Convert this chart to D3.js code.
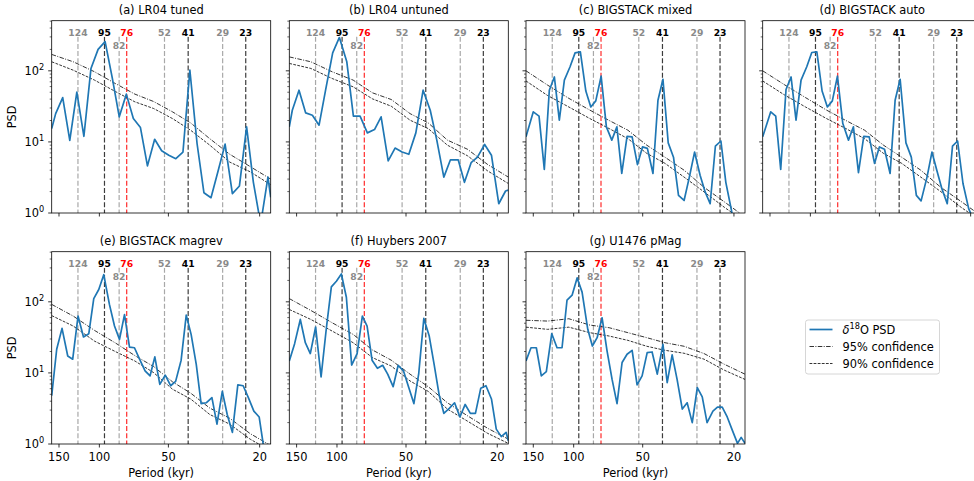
<!DOCTYPE html>
<html><head><meta charset="utf-8">
<script src="https://cdn.jsdelivr.net/npm/d3@7"></script>
<style>body{margin:0;background:#fff} svg{display:block} text{font-family:"DejaVu Sans",sans-serif}</style>
</head><body><svg id="c" width="974" height="481"></svg>
<script>
// ---------- data ----------
const titles = ["(a) LR04 tuned","(b) LR04 untuned","(c) BIGSTACK mixed","(d) BIGSTACK auto","(e) BIGSTACK magrev","(f) Huybers 2007","(g) U1476 pMag"];

const perA = [161.4,155.1,144.5,134.6,125.4,116.8,108.8,101.3,94.4,87.9,81.9,76.3,71.1,66.2,61.7,57.4,53.5,49.8,46.4,43.2,40.3,37.5,35.0,32.6,30.3,28.3,26.3,24.5,22.8,21.3,19.8,18.4,17.9];
const psdA = [15.4,25,42,10.5,50,12,108,200,257,80,22.5,47,21.3,15.9,4.6,10.9,7.5,6.5,5.8,7.2,102,9.5,1.93,1.64,4.0,9.3,1.87,2.4,16.3,2.7,0.7,3.2,1.66];

const perB = [161.4,156.6,146.4,136.9,128.0,119.7,111.6,104.4,97.6,90.6,84.8,79.3,73.7,68.6,64.2,59.8,55.8,52.0,48.6,45.3,42.1,39.2,36.7,34.2,32.0,29.6,27.8,26.0,24.4,22.7,21.2,19.7,18.4,17.9];
const psdB = [16.3,27.9,53.4,25.6,23.7,17.2,58.2,179,295,134,23,23,13.4,14.9,22.5,5.4,8.2,7.2,6.7,13.4,53.4,27.9,10.6,3.2,5.6,5.6,2.7,5.1,6.1,9.2,6.5,1.35,2.04,2.1];

const perC = [161.4,150,141.6,134.3,127.7,121.4,115.5,109.8,103.7,98.6,93.5,88.5,84.2,80.1,75.9,72.0,68.2,64.8,61.7,58.5,55.6,52.7,50.1,47.7,45.1,42.9,40.8,38.7,36.7,34.9,33.0,31.3,29.7,28.1,26.7,25.4,24.1,22.8,21.7,20.4,19.3];
const psdC = [11.8,26.5,23,4.1,53.4,82,20.2,74,114,179,185,52,31,37.8,84,16.3,10.6,16.3,3.6,12,11.8,4.8,8.5,8.1,3.6,38.6,76,9.7,6.1,1.77,1.5,3.2,7.2,3.4,1.98,1.35,8.7,10.3,2.7,1.0,0.5];

const perD = [161.4,148.9,141.6,134.7,127.7,121.4,115.5,109.8,103.7,98.6,93.7,88.9,84.3,80.2,76.2,72.2,68.2,64.9,61.7,58.5,55.4,52.5,50.0,47.5,44.9,42.7,40.6,38.3,36.3,34.5,32.9,31.0,29.5,28.1,26.7,25.3,24.0,22.8,21.6,20.4,19.4];
const psdD = [11.8,26.5,23,4.1,54.6,82,20.2,74,114,181,185,52,31,37.8,84,18.1,10.6,16.3,3.7,12,11.8,5.0,8.5,7.9,3.6,38.6,76,9.7,6.1,1.77,1.48,3.2,7.2,4.0,2.2,1.35,8.7,10.3,2.6,1.15,0.79];

const perE = [161.4,153.5,145.5,137.4,130.7,123.9,117.3,111.2,105.8,100.6,95.7,90.4,85.9,81.7,77.7,73.9,70.3,66.8,63.2,60.1,57.3,54.5,51.6,48.9,46.5,44.0,41.8,39.8,37.8,36.0,34.2,32.3,30.7,29.1,27.7,26.3,24.9,23.6,22.4,21.2,20.1,19.3,18.5];
const psdE = [4.8,21.5,42.3,17.3,15.6,63,32,35.6,111,149,241,92,45.6,29.6,66,23.1,22.6,15.6,10.7,9.1,16.8,6.9,9.3,6.6,7.6,15.1,65,34.8,13.2,3.7,3.8,4.5,1.9,5.5,2.6,1.46,6.8,6.6,4.5,2.9,2.4,1.0,0.7];

const perF = [161.4,153,144.5,137.4,130.7,123.9,117.3,111.2,105.8,100.6,95.7,91.0,86.3,81.7,77.5,73.9,70.3,66.6,63.2,60.1,56.9,54.1,51.3,48.6,46.2,44.0,41.8,39.6,37.7,35.8,34.2,32.3,30.7,29.1,27.6,26.2,24.9,23.6,22.4,21.2,20.2,19.2,18.3,17.9];
const psdF = [14.7,25.8,56.5,26.6,18.7,44.2,8.8,43.2,162,195,247,116,12.9,18.7,63,45.6,15.1,11.6,12.8,9.6,6.4,12.8,10.7,6.2,3.7,9.8,58.4,33,13.2,4.8,2.7,3.2,3.8,2.4,3.6,2.7,2.7,6.1,6.6,4.3,1.62,1.27,1.46,1.11];

const perG = [161.4,153.5,145.5,138.4,131.6,124.6,118.2,112.4,106.9,101.6,96.6,91.9,86.8,82.9,79.0,75.2,71.5,68.0,64.7,61.5,58.5,55.6,52.9,50.3,47.8,45.5,43.2,40.8,39.1,37.2,35.4,33.6,32.0,30.4,28.9,27.5,26.2,24.7,23.6,22.5,21.4,20.3,19.3,18.6,17.9];
const psdG = [14.7,22.6,22.6,9.1,10.4,35.6,22.6,22.6,106,124,217,137,41,23.9,31.3,59.7,20.3,8.1,3.7,14.0,18.3,20.8,6.8,9.1,19.3,19.7,9.6,25.2,7.3,17.9,8.1,3.1,3.8,2.0,6.2,4.6,2.0,2.9,3.3,3.3,2.4,1.54,1.02,1.24,1.02];

const confPeriods = [161.4,130,105,85,70,58,48,40,33,27,22,17.9];
const c95A = [170,134,97,66,47,37,26.5,18.5,11.1,6.7,4.5,3.0];
const c90A = [134,102,74,51,36.6,29.5,21.3,14.6,9.0,5.2,3.8,2.5];
const c95B = [157,134,97,74,49,39.5,25,18.5,10.6,7.9,4.8,3.2];
const c90B = [127,108,78,59.5,40.3,31.8,20.2,15.4,9.0,6.4,3.9,2.6];
const c95C = [100,63,41,28,20,14.6,9.0,6.1,4.0,2.3,1.43,0.88];
const c90C = [72,45,31,21.3,15.4,11.1,6.9,5.0,3.2,1.98,1.2,0.75];
const c95D = [100,64,42,28,20,14.6,9.0,6.1,4.0,2.3,1.45,0.9];
const c90D = [72,46,31,21.3,15.4,11.1,6.9,5.0,3.2,2.0,1.2,0.76];
const c95E = [92,63,39.6,26.3,17.5,12.3,7.5,5.2,3.2,2.3,1.4,0.95];
const c90E = [64,45.6,28,19.9,14.7,10.1,5.9,4.3,2.6,1.9,1.17,0.8];
const c95F = [111,75.6,50.8,34.8,21,15.1,9.6,6.4,3.8,2.5,1.66,1.17];
const c90F = [78,56.5,38.8,26.6,16.4,12.5,7.7,5.5,3.1,2.1,1.41,1.02];
const c95G = [55,53.6,57.8,47.1,43.2,36.8,31.3,26.6,23.7,18.7,13.2,9.6];
const c90G = [44,41,44,36.8,33,28.7,23.7,20.8,18.9,15.6,10.9,8.1];

const markPeriods = [124,95,82,76,52,41,29,23];
const markLabels = ["124","95","82","76","52","41","29","23"];
const markKinds = ["gray","black","gray","red","gray","black","gray","black"];
const xTicks = [150,100,50,20];
const yTicks = [1,10,100];
const legendLabels = ["PSD","95% confidence","90% confidence"];

// ---------- layout / style ----------
const W = 219, H = 192.3, FS = 11.4;
const colX = [51.7,289.3,526,762.7], rowY = [20.7,251.7];
const lineCol = {gray:"#a8a8a8", black:"#3c3c3c", red:"#ff2a2a"};
const textCol = {gray:"#8a8a8a", black:"#000000", red:"#ff0000"};
const blue = "#1f77b4";

const x = d3.scaleLog().domain([161.4,17.9]).range([0,W]);
const y = d3.scaleLog().domain([1,507]).range([H,0]);
const line = d3.line().x(d=>x(d[0])).y(d=>y(d[1]));

const series = [
  {p:perA,v:psdA,u:c95A,l:c90A},{p:perB,v:psdB,u:c95B,l:c90B},
  {p:perC,v:psdC,u:c95C,l:c90C},{p:perD,v:psdD,u:c95D,l:c90D},
  {p:perE,v:psdE,u:c95E,l:c90E},{p:perF,v:psdF,u:c95F,l:c90F},
  {p:perG,v:psdG,u:c95G,l:c90G}];

const svg = d3.select("#c");
const defs = svg.append("defs");

series.forEach((s,i)=>{
  const col = i%4, row = Math.floor(i/4);
  const g = svg.append("g").attr("transform",`translate(${colX[col]},${rowY[row]})`);
  defs.append("clipPath").attr("id","cl"+i).append("rect").attr("width",W).attr("height",H);
  const inner = g.append("g").attr("clip-path",`url(#cl${i})`);

  markPeriods.forEach((p,j)=>{
    inner.append("line").attr("x1",x(p)).attr("x2",x(p)).attr("y1",16).attr("y2",H)
      .attr("stroke",lineCol[markKinds[j]]).attr("stroke-width",1.2).attr("stroke-dasharray","5,2.2");
  });
  inner.append("path").datum(confPeriods.map((p,k)=>[p,s.u[k]])).attr("d",line)
    .attr("fill","none").attr("stroke","#000").attr("stroke-width",0.8).attr("stroke-dasharray","4.5,1.4,1,1.4");
  inner.append("path").datum(confPeriods.map((p,k)=>[p,s.l[k]])).attr("d",line)
    .attr("fill","none").attr("stroke","#000").attr("stroke-width",0.8).attr("stroke-dasharray","2.8,1.3");
  inner.append("path").datum(s.p.map((p,k)=>[p,s.v[k]])).attr("d",line)
    .attr("fill","none").attr("stroke",blue).attr("stroke-width",1.7).attr("stroke-linejoin","round");

  markPeriods.forEach((p,j)=>{
    const yy = markLabels[j]==="82" ? 28.5 : 15;
    const t = g.append("text").attr("x",x(p)).attr("y",yy).attr("text-anchor","middle")
      .attr("font-size",9.2).attr("font-weight","bold").attr("fill",textCol[markKinds[j]]).text(markLabels[j]);
    const bb = t.node().getBBox();
    g.insert("rect", () => t.node()).attr("x",bb.x-0.5).attr("y",bb.y+1.5).attr("width",bb.width+1).attr("height",bb.height-2.5).attr("fill","#fff");
  });

  g.append("rect").attr("width",W).attr("height",H).attr("fill","none").attr("stroke","#000").attr("stroke-width",0.8);

  xTicks.forEach(t=>{
    g.append("line").attr("x1",x(t)).attr("x2",x(t)).attr("y1",H).attr("y2",H+3.5).attr("stroke","#000").attr("stroke-width",0.8);
    if(row===1) g.append("text").attr("x",x(t)).attr("y",H+17.5).attr("text-anchor","middle").attr("font-size",FS).text(t);
  });
  if(row===1) g.append("text").attr("x",W/2).attr("y",H+33).attr("text-anchor","middle").attr("font-size",FS).text("Period (kyr)");

  const ymax = y.domain()[1];
  for(let d=1; d<=100; d*=10){
    for(let m=1;m<10;m++){
      const v=d*m; if(v>ymax) break;
      const major = m===1;
      g.append("line").attr("x1",0).attr("x2",major?-3.5:-2).attr("y1",y(v)).attr("y2",y(v)).attr("stroke","#000").attr("stroke-width",major?0.8:0.6);
    }
  }
  if(col===0){
    yTicks.forEach(v=>{
      const t = g.append("text").attr("x",-7.5).attr("y",y(v)+4).attr("text-anchor","end").attr("font-size",FS);
      t.append("tspan").text("10");
      t.append("tspan").attr("font-size",8.2).attr("dy",-5).text(String(Math.round(Math.log10(v))));
    });
    g.append("text").attr("transform",`translate(${-36},${H/2}) rotate(-90)`).attr("text-anchor","middle").attr("font-size",FS).text("PSD");
  }
  g.append("text").attr("x",W/2).attr("y",-6.5).attr("text-anchor","middle").attr("font-size",FS).text(titles[i]);
});

const lg = svg.append("g").attr("transform","translate(805.5,320)");
lg.append("rect").attr("width",134).attr("height",54).attr("rx",2.5).attr("fill","#fff").attr("stroke","#cccccc").attr("stroke-width",0.8);
const ly = [9.5,26.5,43.5];
const lstyle = [{c:blue,w:1.7,d:null},{c:"#000",w:0.8,d:"4.5,1.4,1,1.4"},{c:"#000",w:0.8,d:"2.8,1.3"}];
lstyle.forEach((st,k)=>{
  const l = lg.append("line").attr("x1",4).attr("x2",27).attr("y1",ly[k]).attr("y2",ly[k]).attr("stroke",st.c).attr("stroke-width",st.w);
  if(st.d) l.attr("stroke-dasharray",st.d);
  const t = lg.append("text").attr("x",37).attr("y",ly[k]+4).attr("font-size",FS);
  if(k===0){
    t.append("tspan").attr("font-style","italic").text("δ");
    t.append("tspan").attr("font-size",8.2).attr("dy",-5).text("18");
    t.append("tspan").attr("dy",5).text("O "+legendLabels[0]);
  } else t.text(legendLabels[k]);
});
</script></body></html>
